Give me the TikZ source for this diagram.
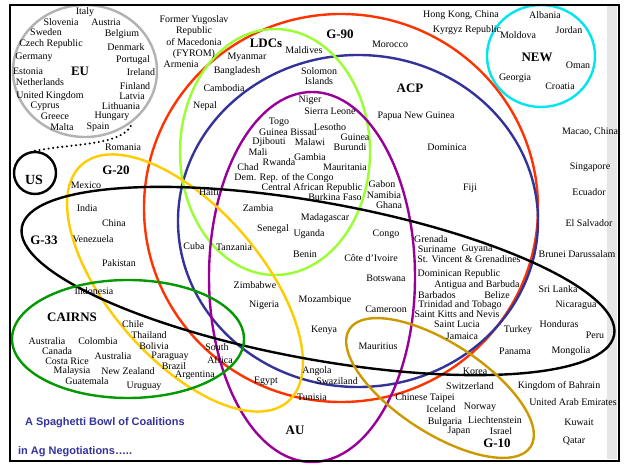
\documentclass[tikz,border=0pt]{standalone}
\usepackage{fontspec}
\setmainfont{Liberation Serif}
\newfontfamily\ttlfont{Liberation Sans}
\usetikzlibrary{shapes.geometric}
\definecolor{g90c}{HTML}{FF3300}
\definecolor{acpc}{HTML}{333399}
\definecolor{ldcc}{HTML}{99FF33}
\definecolor{auc}{HTML}{990099}
\definecolor{g20c}{HTML}{FFCC00}
\definecolor{cairnsc}{HTML}{009900}
\definecolor{g10c}{HTML}{CC9900}
\definecolor{euc}{HTML}{B2B2B2}
\definecolor{newc}{HTML}{00E5EE}
\definecolor{ttlc}{HTML}{333399}
\definecolor{stripc}{HTML}{E6E6E6}
\begin{document}
\begin{tikzpicture}[x=1bp,y=-1bp,
 lbl/.style={font=\fontsize{10}{11}\selectfont, inner sep=0pt},
 lblB/.style={font=\fontsize{13}{14}\selectfont\bfseries, inner sep=0pt},
 ring/.style={line width=2.4bp},
 ttl/.style={font=\ttlfont\bfseries\fontsize{11}{12}\selectfont, text=ttlc, inner sep=0pt, anchor=west},
 dotline/.style={line width=2.3bp, dash pattern=on 0bp off 4.6bp, line cap=round}]
\useasboundingbox (0,0) rectangle (627,465);
\fill[white] (0,0) rectangle (627,465);
\fill[stripc] (607,6) rectangle (617,459);
% coalition outlines
\node[ring, draw=euc, ellipse, minimum width=144bp, minimum height=132bp, inner sep=0pt] (eu) at (85,71) {};
\node[ring, draw=newc, ellipse, minimum width=108bp, minimum height=102bp, inner sep=0pt] (new) at (541,56) {};
\node[ring, draw=black, circle, minimum size=42bp, inner sep=0pt] (us) at (35,173) {};
\draw[ring, g90c] (341,208) ellipse [x radius=197bp, y radius=194bp];
\draw[ring, acpc] (358,221) ellipse [x radius=180bp, y radius=166bp];
\draw[ring, ldcc] (275,152) ellipse [x radius=95bp, y radius=123bp];
\draw[ring, auc] (312,277) ellipse [x radius=103bp, y radius=185bp];
\draw[ring, g20c, rotate around={-49:(185,283)}] (185,283) ellipse [x radius=157bp, y radius=76bp];
\draw[ring, black, rotate around={-10.3:(318,281)}] (318,281) ellipse [x radius=301bp, y radius=78.5bp];
\draw[ring, cairnsc] (128,339) ellipse [x radius=116bp, y radius=59bp];
\draw[ring, g10c, rotate around={-33:(440,388)}] (440,388) ellipse [x radius=108bp, y radius=45bp];
\draw[dotline] (us.north) .. controls (75,143) and (125,146) .. (eu.-47);
% EU
\node[lbl] (italy) at (85,12) {Italy};
\node[lbl] (slovenia) at (61,22) {Slovenia};
\node[lbl] (austria) at (106,22) {Austria};
\node[lbl] (sweden) at (46,32) {Sweden};
\node[lbl] (belgium) at (122,34) {Belgium};
\node[lbl] (czech) at (51,44) {Czech Republic};
\node[lbl] (denmark) at (126,47) {Denmark};
\node[lbl] (germany) at (34,57) {Germany};
\node[lbl] (portugal) at (133,60) {Portugal};
\node[lblB] (eulbl) at (80,71) {EU};
\node[lbl] (estonia) at (28,71) {Estonia};
\node[lbl] (ireland) at (141,72) {Ireland};
\node[lbl] (netherlands) at (40,82) {Netherlands};
\node[lbl] (finland) at (135,86) {Finland};
\node[lbl] (uk) at (50,96) {United Kingdom};
\node[lbl] (latvia) at (132,96) {Latvia};
\node[lbl] (cyprus) at (45,106) {Cyprus};
\node[lbl] (lithuania) at (121,106) {Lithuania};
\node[lbl] (greece) at (55,116) {Greece};
\node[lbl] (hungary) at (112,116) {Hungary};
\node[lbl] (malta) at (62,127) {Malta};
\node[lbl] (spain) at (98,127) {Spain};
\node[lbl] (romania) at (123,147) {Romania};
\node[lblB, font=\fontsize{14}{15}\selectfont\bfseries] (uslbl) at (34,180) {US};
% top middle
\node[lbl, align=center, font=\fontsize{10}{11.3}\selectfont] (fyrom) at (194,37) {Former Yugoslav\\Republic\\of Macedonia\\(FYROM)};
\node[lbl] (armenia) at (181,64) {Armenia};
\node[lblB] (ldclbl) at (266,43) {LDCs};
\node[lblB] (g90lbl) at (340,34) {G-90};
\node[lbl] (maldives) at (304,50) {Maldives};
\node[lbl] (myanmar) at (247,57) {Myanmar};
\node[lbl] (bangladesh) at (237,71) {Bangladesh};
\node[lbl] (cambodia) at (224,88) {Cambodia};
\node[lbl] (nepal) at (205,106) {Nepal};
\node[lbl, align=center, font=\fontsize{10}{10.5}\selectfont] (solomon) at (319,76) {Solomon\\Islands};
\node[lbl] (morocco) at (390,44) {Morocco};
\node[lblB] (acplbl) at (410,88) {ACP};
\node[lbl] (niger) at (310,100) {Niger};
\node[lbl] (sierra) at (330,111) {Sierra Leone};
\node[lbl] (png) at (416,116) {Papua New Guinea};
% top right
\node[lbl] (hk) at (461,15) {Hong Kong, China};
\node[lbl] (kyrgyz) at (467,30) {Kyrgyz Republic};
\node[lbl] (albania) at (545,15) {Albania};
\node[lbl] (moldova) at (518,35) {Moldova};
\node[lbl] (jordan) at (569,30) {Jordan};
\node[lblB] (newlbl) at (537,57) {NEW};
\node[lbl] (oman) at (578,65) {Oman};
\node[lbl] (georgia) at (515,78) {Georgia};
\node[lbl] (croatia) at (560,86) {Croatia};
\node[lbl] (macao) at (590,132) {Macao, China};
\node[lbl] (dominica) at (447,147) {Dominica};
\node[lbl] (fiji) at (470,188) {Fiji};
\node[lbl] (singapore) at (590,167) {Singapore};
\node[lbl] (ecuador) at (589,192) {Ecuador};
\node[lbl] (elsalvador) at (589,223) {El Salvador};
% Africa
\node[lbl] (togo) at (279,122) {Togo};
\node[lbl] (gbissau) at (288,132) {Guinea Bissau};
\node[lbl] (lesotho) at (330,127) {Lesotho};
\node[lbl] (guinea) at (355,137) {Guinea};
\node[lbl] (djibouti) at (269,142) {Djibouti};
\node[lbl] (malawi) at (310,142) {Malawi};
\node[lbl] (burundi) at (350,147) {Burundi};
\node[lbl] (mali) at (258,152) {Mali};
\node[lbl] (gambia) at (310,157) {Gambia};
\node[lbl] (rwanda) at (279,162) {Rwanda};
\node[lbl] (chad) at (248,167) {Chad};
\node[lbl] (mauritania) at (345,167) {Mauritania};
\node[lbl] (drc) at (284,178) {Dem. Rep. of the Congo};
\node[lbl] (car) at (312,188) {Central African Republic};
\node[lbl] (burkina) at (335,197) {Burkina Faso};
\node[lbl] (gabon) at (382,184) {Gabon};
\node[lbl] (namibia) at (384,195) {Namibia};
\node[lbl] (ghana) at (389,205) {Ghana};
\node[lbl] (haiti) at (209,192) {Haiti};
\node[lbl] (zambia) at (258,208) {Zambia};
\node[lbl] (madagascar) at (325,218) {Madagascar};
\node[lbl] (senegal) at (273,229) {Senegal};
\node[lbl] (uganda) at (309,234) {Uganda};
\node[lbl] (congo) at (386,234) {Congo};
\node[lbl] (tanzania) at (234,247) {Tanzania};
\node[lbl] (cuba) at (194,246) {Cuba};
\node[lbl] (benin) at (305,254) {Benin};
\node[lbl] (cote) at (371,258) {Côte d’Ivoire};
\node[lbl] (botswana) at (386,278) {Botswana};
\node[lbl] (zimbabwe) at (255,285) {Zimbabwe};
\node[lbl] (nigeria) at (264,305) {Nigeria};
\node[lbl] (mozambique) at (325,300) {Mozambique};
\node[lbl] (cameroon) at (386,309) {Cameroon};
\node[lbl] (kenya) at (324,330) {Kenya};
\node[lbl] (mauritius) at (378,346) {Mauritius};
\node[lbl] (angola) at (317,371) {Angola};
\node[lbl] (swaziland) at (337,381) {Swaziland};
\node[lbl] (egypt) at (266,381) {Egypt};
\node[lbl] (tunisia) at (312,397) {Tunisia};
\node[lblB] (aulbl) at (295,430) {AU};
\node[lbl] (south) at (217,347) {South};
\node[lbl] (africa) at (220,360) {Africa};
\node[lbl] (argentina) at (195,375) {Argentina};
% left
\node[lblB] (g20lbl) at (116,170) {G-20};
\node[lbl] (mexico) at (86,185) {Mexico};
\node[lbl] (india) at (87,208) {India};
\node[lbl] (china) at (114,223) {China};
\node[lblB] (g33lbl) at (44,240) {G-33};
\node[lbl] (venezuela) at (93,239) {Venezuela};
\node[lbl] (pakistan) at (119,263) {Pakistan};
\node[lbl] (indonesia) at (94,291) {Indonesia};
\node[lblB] (cairnslbl) at (72,317) {CAIRNS};
\node[lbl] (chile) at (133,324) {Chile};
\node[lbl] (thailand) at (149,335) {Thailand};
\node[lbl] (australia1) at (47,341) {Australia};
\node[lbl] (colombia) at (98,341) {Colombia};
\node[lbl] (bolivia) at (154,346) {Bolivia};
\node[lbl] (canada) at (57,351) {Canada};
\node[lbl] (australia2) at (113,356) {Australia};
\node[lbl] (paraguay) at (170,356) {Paraguay};
\node[lbl] (costarice) at (67,361) {Costa Rice};
\node[lbl] (brazil) at (174,366) {Brazil};
\node[lbl] (malaysia) at (72,371) {Malaysia};
\node[lbl] (newzealand) at (128,371) {New Zealand};
\node[lbl] (guatemala) at (87,381) {Guatemala};
\node[lbl] (uruguay) at (144,386) {Uruguay};
% right
\node[lbl] (grenada) at (431,239) {Grenada};
\node[lbl] (suriname) at (437,249) {Suriname};
\node[lbl] (guyana) at (477,249) {Guyana};
\node[lbl] (stvincent) at (469,259) {St. Vincent \& Grenadines};
\node[lbl] (brunei) at (577,254) {Brunei Darussalam};
\node[lbl] (domrep) at (459,274) {Dominican Republic};
\node[lbl] (antigua) at (477,285) {Antigua and Barbuda};
\node[lbl] (barbados) at (437,295) {Barbados};
\node[lbl] (belize) at (497,295) {Belize};
\node[lbl] (srilanka) at (558,289) {Sri Lanka};
\node[lbl] (trinidad) at (460,305) {Trinidad and Tobago};
\node[lbl] (nicaragua) at (576,305) {Nicaragua};
\node[lbl] (stkitts) at (457,314) {Saint Kitts and Nevis};
\node[lbl] (stlucia) at (457,324) {Saint Lucia};
\node[lbl] (honduras) at (559,324) {Honduras};
\node[lbl] (turkey) at (518,330) {Turkey};
\node[lbl] (jamaica) at (462,336) {Jamaica};
\node[lbl] (peru) at (595,335) {Peru};
\node[lbl] (panama) at (515,351) {Panama};
\node[lbl] (mongolia) at (571,351) {Mongolia};
\node[lbl] (korea) at (475,371) {Korea};
\node[lbl] (switzerland) at (470,386) {Switzerland};
\node[lbl] (bahrain) at (559,386) {Kingdom of Bahrain};
\node[lbl] (taipei) at (425,398) {Chinese Taipei};
\node[lbl] (uae) at (573,402) {United Arab Emirates};
\node[lbl] (iceland) at (441,409) {Iceland};
\node[lbl] (norway) at (480,407) {Norway};
\node[lbl] (bulgaria) at (445,422) {Bulgaria};
\node[lbl] (liechtenstein) at (495,420) {Liechtenstein};
\node[lbl] (kuwait) at (579,422) {Kuwait};
\node[lbl] (japan) at (459,431) {Japan};
\node[lbl] (israel) at (501,431) {Israel};
\node[lblB] (g10lbl) at (497,443) {G-10};
\node[lbl] (qatar) at (574,441) {Qatar};
% title
\node[ttl] (title1) at (25,423) {A Spaghetti Bowl of Coalitions};
\node[ttl] (title2) at (18,452) {in Ag Negotiations…..};
% frame
\draw[line width=2.5bp] (10,5) rectangle (619,461);
\end{tikzpicture}
\end{document}
